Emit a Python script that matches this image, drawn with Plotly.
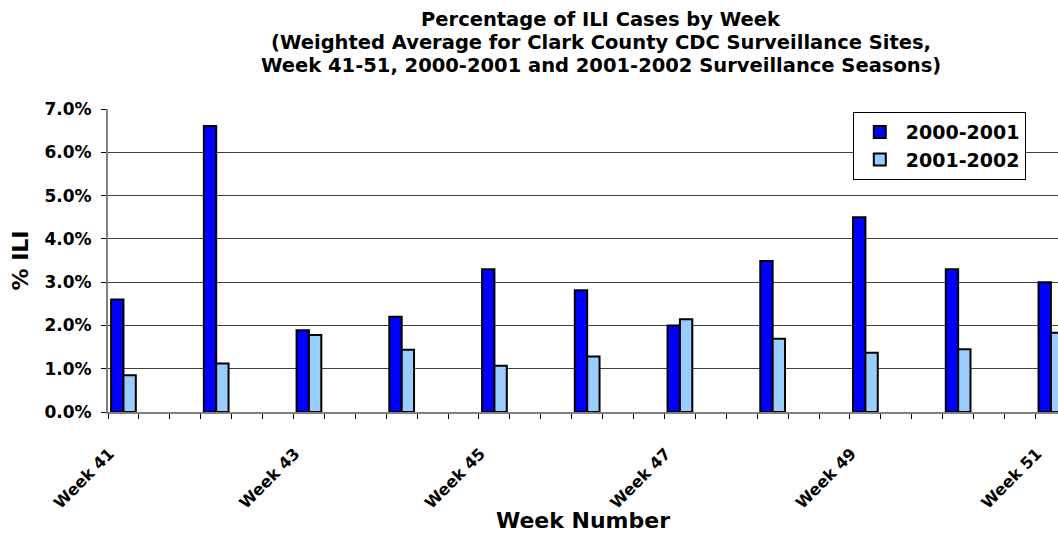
import plotly.graph_objects as go

weeks = [41, 42, 43, 44, 45, 46, 47, 48, 49, 50, 51]
season_2000_2001 = [2.60, 6.61, 1.89, 2.20, 3.30, 2.81, 2.00, 3.49, 4.50, 3.30, 3.00]
season_2001_2002 = [0.85, 1.12, 1.78, 1.44, 1.07, 1.28, 2.14, 1.69, 1.37, 1.45, 1.83]
label_weeks = [41, 43, 45, 47, 49, 51]
y_ticks = [0, 1, 2, 3, 4, 5, 6, 7]
title_lines = [
    "Percentage of ILI Cases by Week",
    "(Weighted Average for Clark County CDC Surveillance Sites,",
    "Week 41-51, 2000-2001 and 2001-2002 Surveillance Seasons)",
]

# each week occupies three category slots (bars in the first slot)
xpos = [3 * (w - weeks[0]) for w in weeks]
label_pos = [3 * (w - weeks[0]) - 0.45 for w in label_weeks]
label_text = [f"Week {w}" for w in label_weeks]

FONT = "DejaVu Sans, Liberation Sans, Arial, sans-serif"

fig = go.Figure()
fig.add_trace(go.Bar(
    x=xpos, y=season_2000_2001, name="2000-2001",
    width=0.4, offset=-0.4,
    marker=dict(color="#0000FF", line=dict(color="black", width=2)),
))
fig.add_trace(go.Bar(
    x=xpos, y=season_2001_2002, name="2001-2002",
    width=0.4, offset=0.0,
    marker=dict(color="#99CCFF", line=dict(color="black", width=2)),
))

# title lines, centres in paper units (plot area 303 px tall)
title_y = [1.2954, 1.2201, 1.1449]
for txt, yy in zip(title_lines, title_y):
    fig.add_annotation(
        text=txt, xref="paper", yref="paper", x=0.519, y=yy,
        xanchor="center", yanchor="middle", showarrow=False,
        font=dict(size=19.5, family=FONT, weight="bold", color="black"),
    )

fig.update_layout(
    width=1058, height=533,
    margin=dict(l=108, r=0, t=109, b=121),
    paper_bgcolor="white", plot_bgcolor="white",
    font=dict(family=FONT, color="black", weight="bold"),
    barmode="overlay",
    showlegend=True,
    legend=dict(
        x=0.784, xanchor="left", y=0.99, yanchor="top",
        bgcolor="white", bordercolor="black", borderwidth=1,
        font=dict(size=19, family=FONT, weight="bold", color="black"),
        tracegroupgap=0, itemwidth=42,
    ),
    xaxis=dict(
        range=[-0.5, 30.23],
        tickmode="array", tickvals=label_pos, ticktext=label_text,
        tickangle=-45, ticks="", ticklabelstandoff=24,
        tickfont=dict(size=16, family=FONT, weight="bold"),
        showgrid=False, zeroline=False,
        showline=True, linecolor="#808080", linewidth=2,
        minor=dict(tick0=-0.5, dtick=1, ticks="outside", ticklen=5,
                   tickcolor="black", tickwidth=1, showgrid=False),
        title=dict(text="Week Number", font=dict(size=22, family=FONT, weight="bold"),
                   standoff=0),
    ),
    yaxis=dict(
        range=[0, 7],
        tickmode="array", tickvals=y_ticks,
        ticktext=[f"{v:.1f}%" for v in y_ticks],
        ticks="outside", ticklen=5, tickcolor="black", ticklabelstandoff=6,
        tickfont=dict(size=17, family=FONT, weight="bold"),
        showgrid=True, gridcolor="#404040", gridwidth=1,
        zeroline=False,
        showline=True, linecolor="#808080", linewidth=2,
        title=dict(text="% ILI", font=dict(size=22, family=FONT, weight="bold"),
                   standoff=10),
    ),
)

fig.write_html(
    "out.html",
    config={"displayModeBar": False},
    post_script="document.body.style.margin='0';document.body.style.overflow='hidden';",
)
